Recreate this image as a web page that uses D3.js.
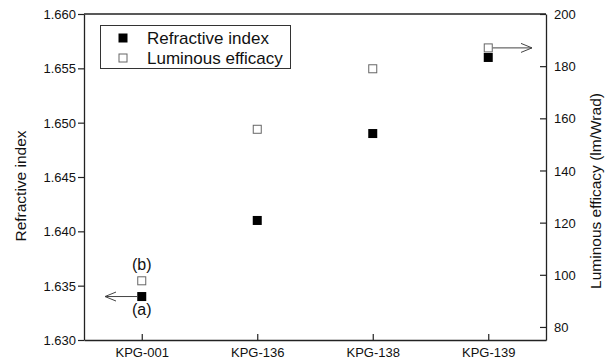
<!DOCTYPE html>
<html>
<head>
<meta charset="utf-8">
<script src="https://cdn.jsdelivr.net/npm/d3@7"></script>
<style>
  html, body { margin: 0; padding: 0; background: #fff; }
  svg { display: block; font-family: "Liberation Sans", Arial, sans-serif; }
</style>
</head>
<body>
<svg id="chart" width="612" height="363"></svg>
<script>
// Samples along the x axis
const samples = ["KPG-001", "KPG-136", "KPG-138", "KPG-139"];
// Refractive index of each sample (left axis)
const refractiveIndex = [1.634, 1.641, 1.649, 1.656];
// Luminous efficacy of each sample, lm/Wrad (right axis)
const luminousEfficacy = [97.7, 155.8, 179, 187];
// Axis ticks
const leftTicks = [1.630, 1.635, 1.640, 1.645, 1.650, 1.655, 1.660];
const rightTicks = [80, 100, 120, 140, 160, 180, 200];

const svg = d3.select("#chart");
const margin = { left: 84, right: 66, top: 14, bottom: 23 };
const W = 612, H = 363;
const x0 = margin.left, x1 = W - margin.right;
const y0 = margin.top, y1 = H - margin.bottom;

const x = d3.scalePoint().domain(samples).range([x0, x1]).padding(0.5);
const yL = d3.scaleLinear().domain([1.630, 1.660]).range([y1, y0]);
const yR = d3.scaleLinear().domain([75, 200]).range([y1, y0]);

const axisColor = "#222";

// Frame: top border line
svg.append("line").attr("x1", x0).attr("x2", x1).attr("y1", y0).attr("y2", y0)
  .attr("stroke", axisColor).attr("stroke-width", 1.3);

// Left axis, ticks pointing outward
const gL = svg.append("g").attr("transform", `translate(${x0},0)`)
  .call(d3.axisLeft(yL).tickValues(leftTicks).tickFormat(d3.format(".3f")).tickSize(6).tickSizeOuter(0));
// Right axis, ticks pointing inward
const gR = svg.append("g").attr("transform", `translate(${x1},0)`)
  .call(d3.axisRight(yR).tickValues(rightTicks).tickSize(-6).tickSizeOuter(0));
// Bottom axis, ticks pointing inward
const gB = svg.append("g").attr("transform", `translate(0,${y1})`)
  .call(d3.axisBottom(x).tickSize(-6).tickSizeOuter(0));

[gL, gR, gB].forEach(g => {
  g.select(".domain").attr("stroke", axisColor).attr("stroke-width", 1.3);
  g.selectAll(".tick line").attr("stroke", axisColor).attr("stroke-width", 1.2);
  g.selectAll(".tick text").attr("fill", "#111").style("font-size", "13px")
    .style("font-family", "Liberation Sans, Arial, sans-serif");
});
gL.selectAll(".tick text").attr("x", -8).attr("dy", "0.35em");
gR.selectAll(".tick text").attr("x", 8).attr("dy", "0.35em");
gB.selectAll(".tick text").attr("y", 8).attr("dy", "0.71em");

// Axis titles
svg.append("text").attr("transform", `translate(26,186) rotate(-90)`)
  .attr("text-anchor", "middle").style("font-size", "15.5px").attr("fill", "#111")
  .text("Refractive index");
svg.append("text").attr("transform", `translate(601,191) rotate(-90)`)
  .attr("text-anchor", "middle").style("font-size", "15.5px").attr("fill", "#111")
  .text("Luminous efficacy (lm/Wrad)");

const ms = 9; // marker side

// Filled squares: refractive index
svg.append("g").selectAll("rect").data(samples).join("rect")
  .attr("x", (d) => x(d) - ms / 2)
  .attr("y", (d, i) => yL(refractiveIndex[i]) - ms / 2)
  .attr("width", ms).attr("height", ms).attr("fill", "#000");

// Open squares: luminous efficacy
svg.append("g").selectAll("rect").data(samples).join("rect")
  .attr("x", (d) => x(d) - ms / 2 + 0.5)
  .attr("y", (d, i) => yR(luminousEfficacy[i]) - ms / 2 + 0.5)
  .attr("width", ms - 1).attr("height", ms - 1)
  .attr("fill", "#fff").attr("stroke", "#666").attr("stroke-width", 1);

// Arrows pointing each series to its own axis
function arrow(xa, xb, y) {
  const dir = Math.sign(xb - xa);
  const g = svg.append("g").attr("stroke", "#444").attr("fill", "none").attr("stroke-width", 1);
  g.append("line").attr("x1", xa).attr("x2", xb).attr("y1", y).attr("y2", y);
  g.append("path").attr("d", `M${xb - dir * 11},${y - 4.5}L${xb},${y}L${xb - dir * 11},${y + 4.5}`);
}
arrow(x(samples[0]) - ms / 2, 105, yL(refractiveIndex[0]));
arrow(x(samples[3]) + ms / 2, 532, yR(luminousEfficacy[3]));

// Point labels
svg.append("text").attr("x", x(samples[0])).attr("y", yR(luminousEfficacy[0]) - 11)
  .attr("text-anchor", "middle").style("font-size", "16px").attr("fill", "#111").text("(b)");
svg.append("text").attr("x", x(samples[0])).attr("y", yL(refractiveIndex[0]) + 18.5)
  .attr("text-anchor", "middle").style("font-size", "16px").attr("fill", "#111").text("(a)");

// Legend
const lg = svg.append("g");
lg.append("rect").attr("x", 100.5).attr("y", 25.5).attr("width", 190).attr("height", 43)
  .attr("fill", "#fff").attr("stroke", "#333").attr("stroke-width", 1);
lg.append("rect").attr("x", 123 - 4.5).attr("y", 38 - 4.5).attr("width", 9).attr("height", 9).attr("fill", "#000");
lg.append("rect").attr("x", 123 - 4).attr("y", 58 - 4).attr("width", 8).attr("height", 8)
  .attr("fill", "#fff").attr("stroke", "#666");
lg.append("text").attr("x", 147).attr("y", 43.5).style("font-size", "17px").attr("fill", "#111").text("Refractive index");
lg.append("text").attr("x", 147).attr("y", 64).style("font-size", "17px").attr("fill", "#111").text("Luminous efficacy");
</script>
</body>
</html>
